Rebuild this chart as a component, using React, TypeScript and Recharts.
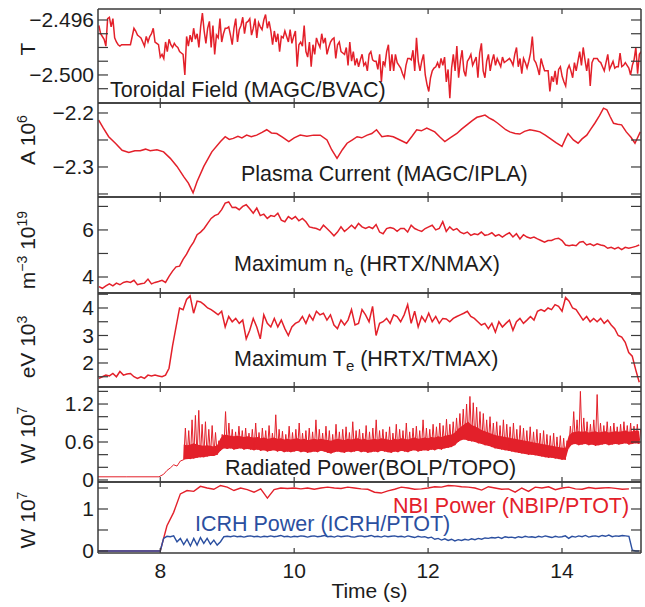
import React from 'react';
import { ComposedChart, Line, Area, XAxis, YAxis } from 'recharts';

// colours and fonts
const RED = '#e3202a';
const BLUE = '#2b4fa0';
const INK = '#1c1c1c';
const FRAME = '#3a3a3a';
const FONT = '"Liberation Sans", Arial, Helvetica, sans-serif';

const W = 645;
const H = 607;
const PLOT_LEFT = 98;
const PLOT_RIGHT = 641;
const X_DOMAIN: [number, number] = [7.07, 15.18];
const X_TICKS = [8, 10, 12, 14];
// top edge of every panel, plus bottom edge of the last one (page px)
const EDGES = [9, 103, 197, 293, 387, 482, 553];

// ---------- data ----------

// Toroidal field (T), sampled every 0.0262 s from 7.083 s
const fieldValues = [
  -2.4964, -2.4970, -2.4972, -2.4974, -2.4979, -2.4959, -2.4958, -2.4965, -2.4959, -2.4973,
  -2.4976, -2.4978, -2.4979, -2.4978, -2.4978, -2.4978, -2.4978, -2.4978, -2.4978, -2.4972,
  -2.4966, -2.4968, -2.4971, -2.4972, -2.4973, -2.4976, -2.4979, -2.4972, -2.4976, -2.4972,
  -2.4970, -2.4966, -2.4976, -2.4977, -2.4978, -2.4987, -2.4985, -2.4988, -2.4976, -2.4983,
  -2.4974, -2.4978, -2.4980, -2.4977, -2.4979, -2.4980, -2.4983, -2.4984, -2.4985, -2.5000,
  -2.4972, -2.4979, -2.4971, -2.4976, -2.4966, -2.4974, -2.4970, -2.4980, -2.4965, -2.4955,
  -2.4968, -2.4977, -2.4966, -2.4961, -2.4980, -2.4964, -2.4985, -2.4971, -2.4973, -2.4959,
  -2.4976, -2.4970, -2.4966, -2.4966, -2.4965, -2.4971, -2.4978, -2.4966, -2.4959, -2.4976,
  -2.4967, -2.4964, -2.4958, -2.4970, -2.4962, -2.4961, -2.4959, -2.4971, -2.4966, -2.4959,
  -2.4973, -2.4962, -2.4965, -2.4967, -2.4960, -2.4956, -2.4966, -2.4961, -2.4968, -2.4978,
  -2.4968, -2.4976, -2.4970, -2.4983, -2.4972, -2.4973, -2.4968, -2.4972, -2.4976, -2.4967,
  -2.4977, -2.4972, -2.4968, -2.4994, -2.4978, -2.4976, -2.4979, -2.4964, -2.4983, -2.4987,
  -2.4976, -2.4994, -2.4978, -2.4985, -2.4973, -2.4977, -2.4980, -2.4970, -2.4977, -2.4973,
  -2.4985, -2.4980, -2.4976, -2.4974, -2.4973, -2.4988, -2.4978, -2.4976, -2.4983, -2.4984,
  -2.4985, -2.4980, -2.4993, -2.4976, -2.4990, -2.4983, -2.4993, -2.4988, -2.4994, -2.4989,
  -2.4985, -2.4993, -2.4991, -2.4997, -2.4985, -2.4983, -2.4989, -2.4990, -2.4990, -2.4996,
  -2.4985, -2.5005, -2.4990, -2.4993, -2.4983, -2.4978, -2.4997, -2.4985, -2.4997, -2.4985,
  -2.4991, -2.4993, -2.4995, -2.4999, -2.5002, -2.4993, -2.4988, -2.4988, -2.4989, -2.4982,
  -2.4997, -2.4973, -2.4990, -2.4997, -2.4990, -2.4985, -2.5000, -2.5007, -2.5012, -2.5002,
  -2.4997, -2.4995, -2.4994, -2.4991, -2.4995, -2.4988, -2.4993, -2.4987, -2.5005, -2.4996,
  -2.5017, -2.4995, -2.4985, -2.4997, -2.4979, -2.5002, -2.4990, -2.4982, -2.4997, -2.5001,
  -2.4990, -2.4988, -2.4985, -2.4993, -2.4990, -2.4987, -2.5002, -2.4984, -2.4977, -2.4997,
  -2.5002, -2.4990, -2.4985, -2.4997, -2.4990, -2.4985, -2.4993, -2.4988, -2.4991, -2.4994,
  -2.4987, -2.4991, -2.4990, -2.4989, -2.4988, -2.4990, -2.4993, -2.4985, -2.4980, -2.4994,
  -2.4988, -2.4999, -2.4988, -2.4991, -2.4995, -2.4990, -2.4984, -2.4972, -2.4989, -2.4991,
  -2.4995, -2.5000, -2.4988, -2.4993, -2.4997, -2.4997, -2.4997, -2.5012, -2.5001, -2.5005,
  -2.4997, -2.5007, -2.4996, -2.4994, -2.5001, -2.5005, -2.5008, -2.4996, -2.4993, -2.4997,
  -2.5002, -2.4991, -2.4997, -2.4990, -2.4983, -2.4993, -2.4980, -2.4989, -2.4997, -2.4988,
  -2.5008, -2.4991, -2.4988, -2.4988, -2.4988, -2.4990, -2.4991, -2.4994, -2.4997, -2.4991,
  -2.4985, -2.4996, -2.4993, -2.4990, -2.4995, -2.4994, -2.4994, -2.4984, -2.4994, -2.4993,
  -2.4991, -2.4993, -2.4995, -2.5000, -2.4993, -2.4989, -2.4980, -2.4999, -2.4985, -2.4983,
];

// Plasma current (A x 10^6)
const currentTime = [
  7.08, 7.15, 7.23, 7.33, 7.43, 7.53, 7.62, 7.70, 7.78, 7.85,
  7.95, 8.05, 8.15, 8.25, 8.35, 8.42, 8.49, 8.55, 8.65, 8.77,
  8.90, 8.97, 9.03, 9.09, 9.16, 9.22, 9.29, 9.36, 9.44, 9.52,
  9.59, 9.66, 9.74, 9.83, 9.92, 10.0, 10.09, 10.19, 10.29, 10.39,
  10.49, 10.56, 10.64, 10.72, 10.79, 10.87, 10.94, 11.01, 11.09, 11.16,
  11.23, 11.31, 11.40, 11.48, 11.58, 11.68, 11.76, 11.83, 11.90, 11.98,
  12.10, 12.18, 12.25, 12.34, 12.43, 12.50, 12.58, 12.66, 12.73, 12.79,
  12.85, 12.91, 12.97, 13.04, 13.10, 13.16, 13.22, 13.30, 13.37, 13.44,
  13.52, 13.60, 13.67, 13.75, 13.82, 13.91, 14.00, 14.05, 14.09, 14.17,
  14.24, 14.30, 14.37, 14.43, 14.49, 14.56, 14.62, 14.67, 14.72, 14.77,
  14.83, 14.89, 14.96, 15.03, 15.09, 15.17,
];
const currentValues = [
  -2.213, -2.228, -2.244, -2.256, -2.269, -2.273, -2.270, -2.270, -2.267, -2.270,
  -2.268, -2.272, -2.284, -2.299, -2.318, -2.330, -2.348, -2.327, -2.299, -2.272,
  -2.253, -2.244, -2.249, -2.247, -2.243, -2.246, -2.241, -2.244, -2.241, -2.236,
  -2.231, -2.237, -2.238, -2.245, -2.253, -2.246, -2.241, -2.243, -2.241, -2.241,
  -2.250, -2.268, -2.284, -2.268, -2.256, -2.250, -2.244, -2.246, -2.241, -2.238,
  -2.231, -2.244, -2.242, -2.244, -2.250, -2.256, -2.243, -2.231, -2.233, -2.228,
  -2.235, -2.245, -2.253, -2.245, -2.238, -2.230, -2.222, -2.214, -2.208, -2.206,
  -2.204, -2.209, -2.213, -2.219, -2.225, -2.231, -2.235, -2.238, -2.239, -2.234,
  -2.231, -2.233, -2.235, -2.241, -2.247, -2.255, -2.262, -2.248, -2.238, -2.250,
  -2.256, -2.248, -2.241, -2.230, -2.219, -2.205, -2.191, -2.194, -2.207, -2.219,
  -2.221, -2.222, -2.235, -2.245, -2.256, -2.235,
];

// Maximum n_e (m^-3 x 10^19), every 0.0524 s from 7.083 s
const densityValues = [
  3.59, 3.52, 3.62, 3.71, 3.62, 3.74, 3.67, 3.77, 3.81, 3.77,
  3.86, 3.67, 3.71, 3.74, 3.91, 3.71, 3.77, 3.81, 3.86, 3.77,
  4.03, 4.25, 4.43, 4.46, 4.75, 4.97, 5.26, 5.48, 5.80, 5.91,
  6.06, 6.28, 6.49, 6.61, 6.67, 6.86, 7.14, 7.19, 6.95, 6.96,
  6.86, 7.00, 7.07, 6.90, 6.71, 6.93, 6.61, 6.67, 6.49, 6.61,
  6.57, 6.71, 6.42, 6.35, 6.57, 6.46, 6.57, 6.39, 6.49, 6.35,
  6.13, 6.09, 6.06, 5.99, 6.20, 6.06, 5.91, 5.75, 5.91, 6.13,
  5.94, 6.06, 6.20, 6.06, 6.28, 6.13, 6.06, 6.13, 6.06, 6.23,
  5.91, 5.84, 6.06, 6.10, 6.06, 5.94, 6.06, 6.06, 5.91, 6.20,
  6.06, 5.99, 5.94, 6.06, 6.13, 6.20, 6.00, 6.06, 6.35, 5.94,
  6.13, 5.99, 6.06, 5.91, 5.84, 5.91, 5.77, 5.84, 5.80, 5.91,
  5.77, 5.80, 5.88, 5.74, 5.80, 5.70, 5.80, 5.88, 5.70, 5.84,
  5.62, 5.80, 5.70, 5.65, 5.70, 5.62, 5.55, 5.48, 5.55, 5.55,
  5.62, 5.65, 5.55, 5.36, 5.33, 5.36, 5.33, 5.48, 5.51, 5.36,
  5.41, 5.33, 5.41, 5.36, 5.33, 5.22, 5.26, 5.19, 5.26, 5.16,
  5.26, 5.22, 5.26, 5.30, 5.36,
];

// Maximum T_e (eV x 10^3), same sampling as n_e
const tempValues = [
  1.44, 1.50, 1.56, 1.53, 1.62, 1.50, 1.69, 1.56, 1.60, 1.62,
  1.50, 1.44, 1.50, 1.44, 1.56, 1.53, 1.56, 1.53, 1.50, 1.56,
  1.81, 2.62, 3.31, 4.00, 3.94, 4.31, 4.44, 3.81, 4.25, 4.22,
  4.12, 4.00, 3.94, 3.85, 3.75, 3.88, 3.31, 3.69, 3.50, 3.62,
  3.44, 3.56, 2.88, 3.19, 3.62, 3.31, 2.88, 3.75, 3.44, 3.31,
  3.62, 3.31, 3.56, 3.25, 3.00, 3.31, 3.44, 3.50, 3.69, 3.44,
  3.75, 3.56, 3.88, 3.75, 3.81, 3.56, 3.75, 3.38, 3.25, 3.56,
  3.38, 3.56, 3.94, 3.38, 3.44, 3.94, 3.75, 3.50, 4.06, 3.00,
  3.44, 3.50, 3.62, 3.44, 3.75, 3.69, 3.50, 3.75, 4.12, 3.44,
  3.88, 3.31, 3.69, 3.50, 3.81, 3.50, 3.69, 3.44, 3.62, 3.60,
  3.50, 3.62, 3.69, 3.75, 3.81, 3.88, 3.69, 3.62, 3.50, 3.38,
  3.44, 3.25, 3.44, 3.12, 3.50, 3.31, 3.44, 3.56, 3.19, 3.50,
  3.62, 3.44, 3.56, 3.69, 3.56, 3.88, 3.94, 3.88, 4.00, 3.94,
  4.12, 4.06, 3.88, 4.38, 4.25, 4.00, 3.94, 3.75, 3.56, 3.69,
  3.50, 3.62, 3.50, 3.62, 3.44, 3.56, 3.38, 3.25, 3.00, 2.94,
  2.75, 2.38, 2.25, 1.75, 1.30,
];

// Radiated power (W x 10^7): quiet ramp, then the spiky phase every 0.05 s from 8.35 s
const radRampTime = [7.0, 7.5, 7.98, 8.05, 8.1, 8.15, 8.2, 8.25, 8.3];
const radRampValues = [0.05, 0.05, 0.05, 0.09, 0.15, 0.19, 0.24, 0.22, 0.3];
// bottom of the solid band
const radLow = [
  0.32, 0.33, 0.33, 0.34, 0.35, 0.36, 0.36, 0.37, 0.38, 0.38,
  0.40, 0.46, 0.50, 0.49, 0.50, 0.48, 0.49, 0.50, 0.48, 0.49,
  0.48, 0.47, 0.48, 0.46, 0.47, 0.45, 0.46, 0.47, 0.45, 0.46,
  0.44, 0.45, 0.44, 0.45, 0.46, 0.44, 0.45, 0.43, 0.44, 0.45,
  0.44, 0.46, 0.45, 0.43, 0.42, 0.44, 0.45, 0.44, 0.43, 0.45,
  0.44, 0.45, 0.46, 0.44, 0.45, 0.43, 0.44, 0.45, 0.44, 0.46,
  0.45, 0.44, 0.43, 0.45, 0.44, 0.46, 0.45, 0.44, 0.46, 0.47,
  0.45, 0.46, 0.47, 0.46, 0.48, 0.47, 0.49, 0.48, 0.50, 0.51,
  0.52, 0.55, 0.60, 0.63, 0.64, 0.62, 0.61, 0.60, 0.58, 0.57,
  0.55, 0.54, 0.52, 0.50, 0.49, 0.48, 0.47, 0.46, 0.45, 0.44,
  0.43, 0.42, 0.41, 0.40, 0.40, 0.39, 0.38, 0.37, 0.36, 0.35,
  0.35, 0.34, 0.33, 0.32, 0.32, 0.50, 0.56, 0.57, 0.55, 0.56,
  0.57, 0.55, 0.56, 0.54, 0.55, 0.56, 0.57, 0.55, 0.56, 0.57,
  0.56, 0.57, 0.58, 0.56, 0.57, 0.58, 0.57,
];
// top of the solid band
const radTop = [
  0.56, 0.55, 0.56, 0.58, 0.56, 0.55, 0.54, 0.55, 0.54, 0.53,
  0.55, 0.66, 0.72, 0.71, 0.70, 0.69, 0.70, 0.69, 0.68, 0.69,
  0.68, 0.67, 0.68, 0.66, 0.67, 0.65, 0.66, 0.67, 0.65, 0.66,
  0.64, 0.65, 0.64, 0.65, 0.66, 0.64, 0.65, 0.63, 0.64, 0.65,
  0.64, 0.65, 0.64, 0.63, 0.62, 0.64, 0.65, 0.64, 0.63, 0.65,
  0.64, 0.65, 0.66, 0.64, 0.65, 0.63, 0.64, 0.65, 0.64, 0.66,
  0.65, 0.64, 0.63, 0.65, 0.64, 0.66, 0.65, 0.64, 0.66, 0.67,
  0.65, 0.66, 0.67, 0.66, 0.68, 0.67, 0.69, 0.68, 0.70, 0.71,
  0.72, 0.75, 0.81, 0.85, 0.89, 0.92, 0.87, 0.85, 0.82, 0.79,
  0.77, 0.75, 0.73, 0.71, 0.70, 0.69, 0.68, 0.67, 0.66, 0.65,
  0.64, 0.63, 0.62, 0.61, 0.60, 0.59, 0.58, 0.57, 0.56, 0.55,
  0.54, 0.53, 0.52, 0.51, 0.51, 0.70, 0.75, 0.76, 0.77, 0.76,
  0.77, 0.75, 0.76, 0.77, 0.75, 0.76, 0.77, 0.75, 0.76, 0.77,
  0.76, 0.77, 0.78, 0.76, 0.77, 0.78, 0.77,
];
// tips of the spikes above the band
const radHigh = [
  0.82, 0.78, 0.95, 1.02, 1.10, 0.88, 0.92, 0.80, 0.86, 0.75,
  0.62, 0.72, 1.08, 0.90, 0.80, 0.76, 0.85, 0.78, 0.82, 0.74,
  0.80, 0.90, 0.75, 0.82, 0.78, 0.86, 0.74, 1.03, 0.80, 0.77,
  0.72, 0.85, 0.75, 0.80, 0.90, 0.74, 0.78, 0.82, 0.76, 0.95,
  0.80, 0.74, 0.85, 0.78, 0.72, 0.88, 0.76, 0.80, 0.84, 0.75,
  0.92, 0.78, 0.80, 0.74, 0.86, 0.76, 0.82, 0.95, 0.78, 0.80,
  0.76, 0.84, 0.74, 0.88, 0.80, 0.78, 0.90, 0.76, 0.82, 0.85,
  0.78, 0.95, 0.82, 0.80, 0.88, 0.84, 0.90, 0.86, 0.96, 0.88,
  0.92, 0.98, 1.05, 1.12, 1.20, 1.32, 1.22, 1.15, 1.08, 1.05,
  0.95, 1.00, 0.90, 0.92, 0.86, 0.95, 0.88, 0.84, 0.90, 0.80,
  0.86, 0.82, 0.78, 0.84, 0.76, 0.80, 0.74, 0.78, 0.72, 0.70,
  0.74, 0.68, 0.70, 0.66, 0.62, 0.85, 1.08, 0.95, 1.40, 0.98,
  0.92, 0.88, 0.95, 1.35, 0.90, 0.86, 0.92, 0.85, 0.90, 0.84,
  0.88, 0.92, 0.86, 0.90, 0.85, 0.88, 0.80,
];

// NBI power (W x 10^7), every 0.1 s from 7.0 s
const nbiValues = [
  0, 0, 0, 0, 0, 0, 0, 0, 0, 0, 0,
  0.60, 0.92, 1.36, 1.44, 1.42, 1.54, 1.50, 1.47, 1.56, 1.52,
  1.44, 1.50, 1.46, 1.40, 1.48, 1.26, 1.46, 1.50, 1.49, 1.50,
  1.48, 1.50, 1.47, 1.50, 1.52, 1.50, 1.49, 1.52, 1.50, 1.48,
  1.47, 1.40, 1.38, 1.43, 1.47, 1.52, 1.50, 1.47, 1.48, 1.50,
  1.53, 1.52, 1.56, 1.55, 1.53, 1.52, 1.50, 1.45, 1.53, 1.50,
  1.47, 1.48, 1.40, 1.50, 1.42, 1.52, 1.50, 1.53, 1.46, 1.50,
  1.52, 1.48, 1.47, 1.51, 1.49, 1.50, 1.51, 1.49, 1.47, 1.48,
];

// ICRH power (W x 10^7), every 0.05 s from 7.0 s
const icrhValues = [
  0, 0, 0, 0, 0, 0, 0, 0, 0, 0,
  0, 0, 0, 0, 0, 0, 0, 0, 0, 0,
  0.00, 0.30, 0.35, 0.34, 0.36, 0.22, 0.30, 0.15, 0.28, 0.12,
  0.30, 0.14, 0.32, 0.18, 0.30, 0.16, 0.26, 0.14, 0.22, 0.34,
  0.35, 0.34, 0.36, 0.34, 0.35, 0.33, 0.35, 0.36, 0.34, 0.35,
  0.33, 0.35, 0.34, 0.36, 0.34, 0.35, 0.37, 0.34, 0.35, 0.33,
  0.35, 0.34, 0.36, 0.35, 0.33, 0.35, 0.36, 0.34, 0.35, 0.37,
  0.34, 0.35, 0.33, 0.36, 0.34, 0.35, 0.36, 0.34, 0.33, 0.35,
  0.36, 0.34, 0.35, 0.37, 0.34, 0.35, 0.33, 0.36, 0.34, 0.35,
  0.36, 0.34, 0.35, 0.33, 0.36, 0.34, 0.32, 0.35, 0.33, 0.34,
  0.31, 0.33, 0.28, 0.30, 0.26, 0.29, 0.25, 0.28, 0.24, 0.27,
  0.25, 0.28, 0.26, 0.29, 0.27, 0.30, 0.28, 0.31, 0.30, 0.32,
  0.31, 0.33, 0.30, 0.34, 0.32, 0.33, 0.31, 0.34, 0.32, 0.35,
  0.33, 0.34, 0.32, 0.35, 0.33, 0.36, 0.34, 0.32, 0.35, 0.33,
  0.34, 0.36, 0.30, 0.35, 0.33, 0.36, 0.34, 0.37, 0.33, 0.35,
  0.36, 0.34, 0.37, 0.35, 0.38, 0.34, 0.36, 0.35, 0.37, 0.36,
  0.35, 0.02, 0.00, 0.00,
];

// ---------- helpers ----------

const grid = (start: number, step: number, n: number) =>
  Array.from({ length: n }, (_, i) => +(start + i * step).toFixed(4));

const pairs = (t: number[], v: number[]) => t.map((x, i) => ({ t: x, v: v[i] }));

const fieldData = pairs(grid(7.0828, 0.02621, fieldValues.length), fieldValues);
const currentData = pairs(currentTime, currentValues);
const densityData = pairs(grid(7.0828, 0.05241, densityValues.length), densityValues);
const tempData = pairs(grid(7.0828, 0.05241, tempValues.length), tempValues);
const radTime = grid(8.35, 0.05, radLow.length);
const radBandData = radTime.map((t, i) => ({ t, band: [radLow[i], radTop[i]] }));
const radSpikeData = [
  ...pairs(radRampTime, radRampValues),
  ...radTime.flatMap((t, i) => [
    { t, v: radLow[i] },
    { t: +(t + 0.025).toFixed(4), v: radHigh[i] },
  ]),
];
const nbiData = pairs(grid(7.0, 0.1, nbiValues.length), nbiValues);
const icrhData = pairs(grid(7.0, 0.05, icrhValues.length), icrhValues);

const tickText = (labeled: number[], digits: number) => (v: number) => {
  if (!labeled.some((l) => Math.abs(l - v) < 1e-6)) return '';
  if (Math.abs(v) < 1e-9) return '0';
  return v.toFixed(digits).replace('-', '\u2212');
};

// Inward tick marks (the frame style of the original), with optional outside label.
// Axes use tickSize 0 / tickMargin 0 so (x, y) is the point on the axis line.
type Side = 'left' | 'right' | 'top' | 'bottom';
const inwardTick = (side: Side, len: number, format?: (v: number) => string) => (props: any) => {
  const { x, y, payload } = props;
  const label = format ? format(payload.value) : '';
  const dx = side === 'left' ? len : side === 'right' ? -len : 0;
  const dy = side === 'top' ? len : side === 'bottom' ? -len : 0;
  return (
    <g>
      <line x1={x} y1={y} x2={x + dx} y2={y + dy} stroke={FRAME} strokeWidth={1.2} />
      {label && side === 'left' && (
        <text x={x - 4} y={y} dy="0.35em" textAnchor="end" fontSize={21} fill={INK} fontFamily={FONT}>
          {label}
        </text>
      )}
      {label && side === 'bottom' && (
        <text x={x} y={y + 10} dy="0.71em" textAnchor="middle" fontSize={21} fill={INK} fontFamily={FONT}>
          {label}
        </text>
      )}
    </g>
  );
};

const xLabel = (v: number) => String(v);
const frameLine = { stroke: FRAME, strokeWidth: 1.5 };

type PanelProps = {
  index: number;
  domain: [number, number];
  ticks: number[];
  format: (v: number) => string;
  showTime?: boolean;
  children: React.ReactNode;
};

const Panel: React.FC<PanelProps> = ({ index, domain, ticks, format, showTime, children }) => {
  const pad = 12;
  const plotH = EDGES[index + 1] - EDGES[index];
  // axes with zero size are not drawn, so the frame axes get 1px
  const xH = showTime ? 52 : 1;
  return (
    <div style={{ position: 'absolute', left: 0, top: EDGES[index] - pad }}>
      <ComposedChart
        width={W}
        height={plotH + 2 * pad + xH}
        margin={{ top: pad - 1, right: W - PLOT_RIGHT - 1, bottom: pad, left: 0 }}
      >
        <XAxis
          xAxisId="b"
          type="number"
          dataKey="t"
          domain={X_DOMAIN}
          allowDataOverflow
          ticks={X_TICKS}
          interval={0}
          height={xH}
          stroke={FRAME}
          axisLine={frameLine}
          tickLine={false}
          tickSize={0}
          tickMargin={0}
          tick={inwardTick('bottom', 5, showTime ? xLabel : undefined)}
          label={
            showTime
              ? { value: 'Time (s)', position: 'insideBottom', offset: 7, fontSize: 21, fill: INK, fontFamily: FONT }
              : undefined
          }
        />
        <XAxis
          xAxisId="top"
          orientation="top"
          type="number"
          dataKey="t"
          domain={X_DOMAIN}
          allowDataOverflow
          ticks={X_TICKS}
          interval={0}
          height={1}
          stroke={FRAME}
          axisLine={frameLine}
          tickLine={false}
          tickSize={0}
          tickMargin={0}
          tick={inwardTick('top', 5)}
        />
        <YAxis
          yAxisId="l"
          type="number"
          width={PLOT_LEFT}
          domain={domain}
          allowDataOverflow
          ticks={ticks}
          interval={0}
          stroke={FRAME}
          axisLine={frameLine}
          tickLine={false}
          tickSize={0}
          tickMargin={0}
          tick={inwardTick('left', 10, format)}
        />
        <YAxis
          yAxisId="r"
          orientation="right"
          type="number"
          width={1}
          domain={domain}
          allowDataOverflow
          ticks={ticks}
          interval={0}
          stroke={FRAME}
          axisLine={frameLine}
          tickLine={false}
          tickSize={0}
          tickMargin={0}
          tick={inwardTick('right', 10)}
        />
        {children}
      </ComposedChart>
    </div>
  );
};

const trace = (data: object[], color: string, width = 1.5) => (
  <Line
    data={data}
    dataKey="v"
    xAxisId="b"
    yAxisId="l"
    type="linear"
    stroke={color}
    strokeWidth={width}
    dot={false}
    activeDot={false}
    isAnimationActive={false}
  />
);

// rotated unit label, parts: [text, superscript?]
const UnitLabel: React.FC<{ cy: number; parts: [string, boolean][] }> = ({ cy, parts }) => {
  let shifted = false;
  return (
    <text
      transform={`translate(35, ${cy}) rotate(-90)`}
      textAnchor="middle"
      fontSize={21}
      fontFamily={FONT}
      fill={INK}
    >
      {parts.map(([s, sup], i) => {
        const dy = sup && !shifted ? -8 : !sup && shifted ? 8 : 0;
        shifted = sup;
        return (
          <tspan key={i} dy={dy} fontSize={sup ? 14 : 21}>
            {s}
          </tspan>
        );
      })}
    </text>
  );
};

const Title: React.FC<{ x: number; y: number; color?: string; children: React.ReactNode }> = ({
  x,
  y,
  color = INK,
  children,
}) => (
  <text x={x} y={y} fontSize={21.5} fontFamily={FONT} fill={color}>
    {children}
  </text>
);

export default function App() {
  return (
    <div style={{ position: 'absolute', left: 0, top: 0, width: W, height: H, background: '#fff' }}>
      <Panel
        index={0}
        domain={[-2.50204, -2.4952]}
        ticks={[-2.496, -2.497, -2.498, -2.499, -2.5, -2.501]}
        format={tickText([-2.496, -2.5], 3)}
      >
        {trace(fieldData, RED)}
      </Panel>
      <Panel
        index={1}
        domain={[-2.3556, -2.1815]}
        ticks={[-2.2, -2.25, -2.3, -2.35]}
        format={tickText([-2.2, -2.3], 1)}
      >
        {trace(currentData, RED)}
      </Panel>
      <Panel index={2} domain={[3.32, 7.4]} ticks={[4, 5, 6, 7]} format={tickText([4, 6], 0)}>
        {trace(densityData, RED)}
      </Panel>
      <Panel
        index={3}
        domain={[1.127, 4.545]}
        ticks={[1.5, 2, 2.5, 3, 3.5, 4, 4.5]}
        format={tickText([2, 3, 4], 0)}
      >
        {trace(tempData, RED)}
      </Panel>
      <Panel
        index={4}
        domain={[-0.032, 1.469]}
        ticks={[0, 0.2, 0.4, 0.6, 0.8, 1.0, 1.2, 1.4]}
        format={tickText([0, 0.6, 1.2], 1)}
      >
        <Area
          data={radBandData}
          dataKey="band"
          xAxisId="b"
          yAxisId="l"
          type="linear"
          stroke="none"
          fill={RED}
          fillOpacity={1}
          dot={false}
          activeDot={false}
          isAnimationActive={false}
        />
        {trace(radSpikeData, RED, 1)}
      </Panel>
      <Panel
        index={5}
        domain={[-0.048, 1.643]}
        ticks={[0, 0.5, 1, 1.5]}
        format={tickText([0, 1], 0)}
        showTime
      >
        {trace(nbiData, RED, 1.4)}
        {trace(icrhData, BLUE, 1.4)}
      </Panel>

      <svg
        width={W}
        height={H}
        style={{ position: 'absolute', left: 0, top: 0, pointerEvents: 'none' }}
      >
        <UnitLabel cy={49} parts={[['T', false]]} />
        <UnitLabel cy={140} parts={[['A 10', false], ['6', true]]} />
        <UnitLabel cy={250} parts={[['m', false], ['\u22123', true], [' 10', false], ['19', true]]} />
        <UnitLabel cy={347} parts={[['eV 10', false], ['3', true]]} />
        <UnitLabel cy={435} parts={[['W 10', false], ['7', true]]} />
        <UnitLabel cy={520} parts={[['W 10', false], ['7', true]]} />

        <Title x={110} y={97}>Toroidal Field (MAGC/BVAC)</Title>
        <Title x={241} y={181}>Plasma Current (MAGC/IPLA)</Title>
        <Title x={234} y={271}>
          Maximum n<tspan dy={5} fontSize={15}>e</tspan>
          <tspan dy={-5}> (HRTX/NMAX)</tspan>
        </Title>
        <Title x={234} y={366}>
          Maximum T<tspan dy={5} fontSize={15}>e</tspan>
          <tspan dy={-5}> (HRTX/TMAX)</tspan>
        </Title>
        <Title x={225} y={475}>Radiated Power(BOLP/TOPO)</Title>
        <Title x={393} y={513} color={RED}>NBI Power (NBIP/PTOT)</Title>
        <Title x={195} y={531} color={BLUE}>ICRH Power (ICRH/PTOT)</Title>
      </svg>
    </div>
  );
}
